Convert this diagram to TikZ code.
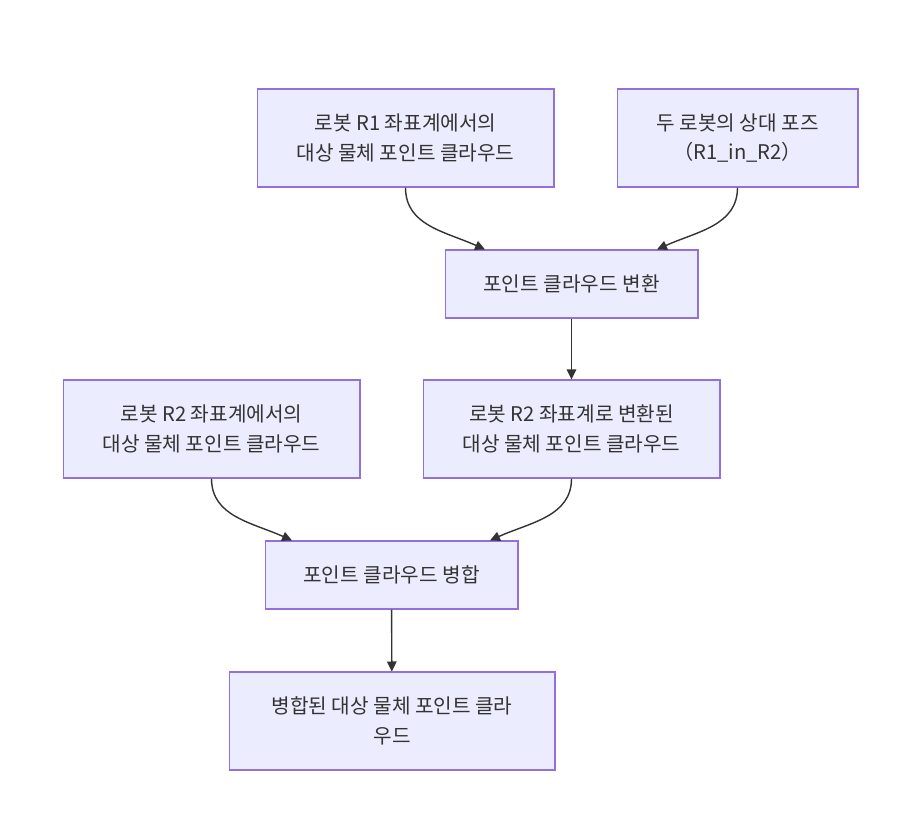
\documentclass[tikz,border=0pt]{standalone}
\usepackage{fontspec}
\setmainfont{Noto Sans CJK KR}
\usetikzlibrary{arrows.meta}
\definecolor{boxfill}{HTML}{ECECFF}
\definecolor{boxline}{HTML}{9370DB}
\definecolor{ink}{HTML}{333333}

\begin{document}
\begin{tikzpicture}[
    x=0.02cm, y=-0.02cm,
    font=\fontsize{11.5}{17}\selectfont,
    proc/.style={rectangle, draw=boxline, fill=boxfill, line width=0.6pt,
                 text=ink, align=center, inner sep=0pt},
    tall/.style={proc, minimum height=1.96cm},
    flat/.style={proc, minimum height=1.36cm},
    flow/.style={draw=ink, line width=0.8pt,
                 -{Triangle[length=2mm, width=1.9mm]}},
]
\useasboundingbox (0,0) rectangle (923,836);

% ---- inputs ----
\node[tall, minimum width=5.94cm] (cloudA) at (405.5,138)
    {로봇 R1 좌표계에서의\\대상 물체 포인트 클라우드};
\node[tall, minimum width=4.82cm] (pose) at (737.5,138)
    {두 로봇의 상대 포즈\\（R1\_in\_R2）};

% ---- transform step ----
\node[flat, minimum width=5.06cm] (trans) at (571.5,284)
    {포인트 클라우드 변환};
\node[tall, minimum width=5.94cm] (cloudB) at (211.5,429)
    {로봇 R2 좌표계에서의\\대상 물체 포인트 클라우드};
\node[tall, minimum width=5.94cm] (moved) at (571.5,429)
    {로봇 R2 좌표계로 변환된\\대상 물체 포인트 클라우드};

% ---- merge step ----
\node[flat, minimum width=5.06cm] (merge) at (391.5,575)
    {포인트 클라우드 병합};
\node[tall, minimum width=6.52cm] (result) at (392,721)
    {병합된 대상 물체 포인트 클라\\우드};

% ---- connectors ----
\draw[flow] (cloudA.south) .. controls +(0,38) and +(-40,-18)
    .. ([xshift=-1.73cm]trans.north);
\draw[flow] (pose.south) .. controls +(0,38) and +(40,-18)
    .. ([xshift=1.71cm]trans.north);
\draw[flow] (trans) -- (moved);
\draw[flow] (cloudB.south) .. controls +(0,38) and +(-40,-18)
    .. ([xshift=-1.99cm]merge.north);
\draw[flow] (moved.south) .. controls +(0,38) and +(40,-18)
    .. ([xshift=1.97cm]merge.north);
\draw[flow] (merge) -- (result);
\end{tikzpicture}
\end{document}
